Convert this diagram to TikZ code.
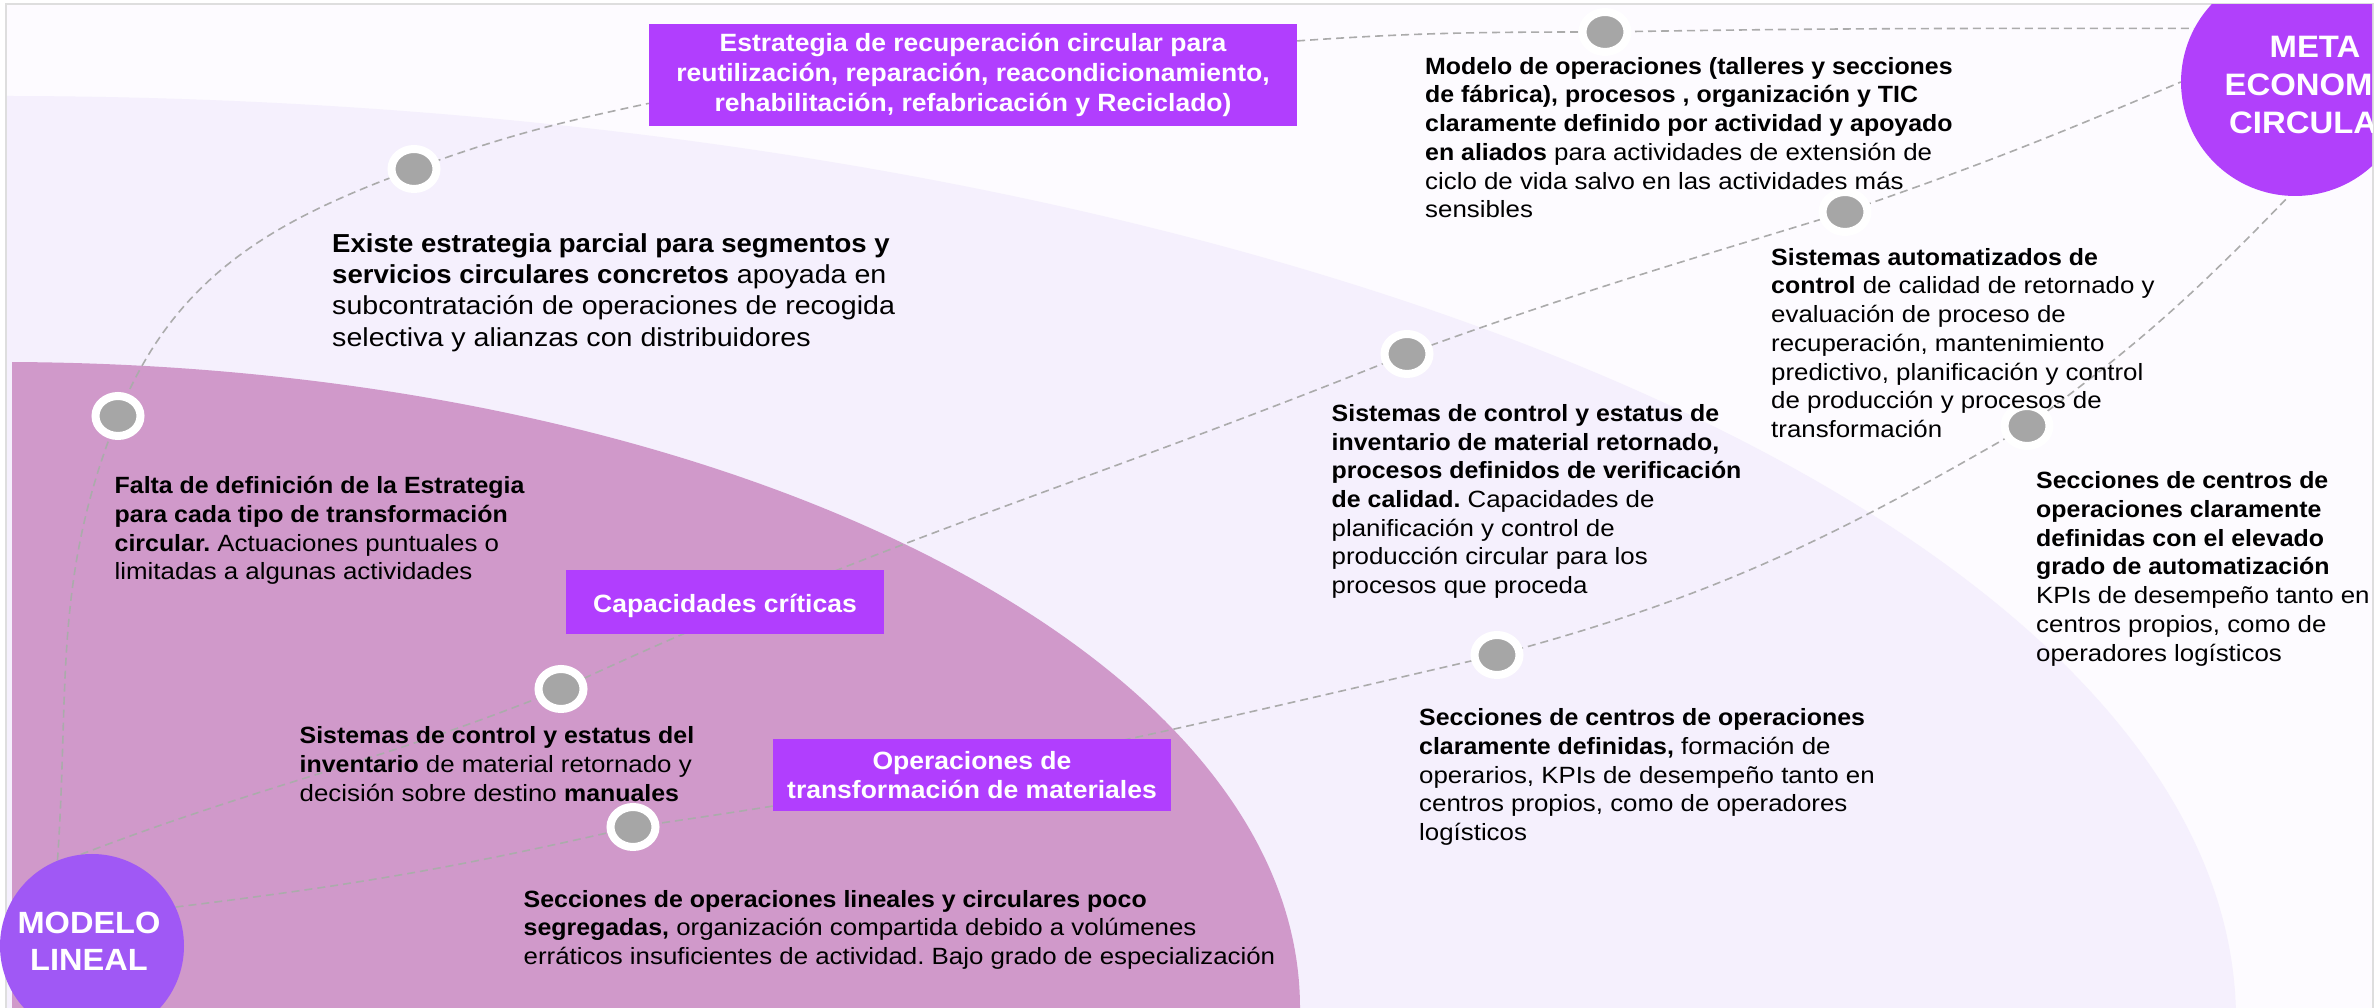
\documentclass[tikz,border=0pt]{standalone}
\usepackage{fontspec}
\setmainfont{Liberation Sans}[FakeStretch=1.10]
\newfontfamily\bdfam{Liberation Sans}[FakeStretch=1.06]
\newcommand\bdx{\bdfam\bfseries}
\frenchspacing
\usetikzlibrary{shapes.geometric}
\definecolor{framebg}{HTML}{FDFBFF}
\definecolor{lav}{HTML}{F5F0FD}
\definecolor{mauve}{HTML}{D099CA}
\definecolor{boxp}{HTML}{B13EFE}
\definecolor{modelc}{HTML}{A058F5}
\definecolor{metac}{HTML}{B140FB}
\definecolor{dotg}{HTML}{A6A6A6}
\definecolor{lineg}{HTML}{ABABAB}
\definecolor{frameg}{HTML}{DEDEDE}
\pgfdeclarelayer{bgl}
\pgfdeclarelayer{lnl}
\pgfsetlayers{bgl,lnl,main}
\tikzset{
 body/.style={anchor=north west, inner sep=0pt, align=left, text=black, font=\frenchspacing\fontsize{23.5}{28.7}\selectfont},
 bodybig/.style={body, font=\frenchspacing\fontsize{26}{31.3}\selectfont},
 dotn/.style={ellipse, fill=dotg, draw=white, line width=8pt, minimum width=45pt, minimum height=40pt, inner sep=0pt},
 pbox/.style={rectangle, fill=boxp, text=white, inner sep=0pt, align=center, font=\bdx\fontsize{25}{29.5}\selectfont},
 conn/.style={draw=lineg, line width=1.6pt, dash pattern=on 8pt off 5pt},
 bigcirc/.style={circle, inner sep=0pt},
 circtxt/.style={text=white, inner sep=0pt, align=center},
}
\newcommand\hs{\rule{0pt}{22pt}}
\newcommand\hb{\rule{0pt}{24.3pt}}
\begin{document}
\begin{tikzpicture}[x=1pt,y=1pt]
\useasboundingbox (0,0) rectangle (2376,1008);
\begin{pgfonlayer}{bgl}
 \fill[white] (0,0) rectangle (2376,1008);
 \begin{scope}
  \clip (7,0) rectangle (2372,1003);
  \fill[framebg] (7,0) rectangle (2372,1003);
  \fill[lav] (0,-12) ellipse [x radius=2236, y radius=924];
 \end{scope}
 \begin{scope}
  \clip (12,0) rectangle (2372,1003);
  \fill[mauve] (0,0) ellipse [x radius=1300, y radius=646];
 \end{scope}
 \draw[frameg, line width=2pt] (6,0) -- (6,1004) -- (2373,1004) -- (2373,0);
\end{pgfonlayer}

% big circles
\begin{scope}
 \clip (7,0) rectangle (2372,1003);
 \node[bigcirc, fill=metac, minimum size=228pt] (meta) at (2295,926) {};
 \node[circtxt, font=\bdx\fontsize{31}{38}\selectfont] (metatxt) at (2315,923) {META\\ECONOMÍA\\CIRCULAR};
\end{scope}
\node[bigcirc, fill=modelc, minimum size=184pt] (modelo) at (92,62) {};
\node[circtxt, font=\bdx\fontsize{30.7}{37}\selectfont] (modelotxt) at (89,66.5) {MODELO\\LINEAL};

% dots
\node[dotn] (d1) at (118,592) {};
\node[dotn] (d2) at (414,839) {};
\node[dotn] (d3) at (1605,976) {};
\node[dotn] (d4) at (561,319) {};
\node[dotn] (d5) at (1407,654) {};
\node[dotn] (d6) at (1845,796) {};
\node[dotn] (d7) at (633,181) {};
\node[dotn] (d8) at (1497,353) {};
\node[dotn] (d9) at (2027,582) {};

% boxes
\node[pbox, font=\bdx\fontsize{25}{30}\selectfont, minimum width=648pt, minimum height=102pt] (b1) at (973,933) {Estrategia de recuperación circular para\\reutilización, reparación, reacondicionamiento,\\rehabilitación, refabricación y Reciclado)};
\node[pbox, minimum width=318pt, minimum height=64pt, text height=22pt, text depth=0pt] (b2) at (725,406) {Capacidades críticas};
\node[pbox, minimum width=398pt, minimum height=72pt] (b3) at (972,233) {Operaciones de\\transformación de materiales};

% texts
\node[body] (t1) at (114.5,536.5) {\hs{\bdx Falta de definición de la Estrategia}\\{\bdx para cada tipo de transformación}\\{\bdx circular.} Actuaciones puntuales o\\limitadas a algunas actividades};
\node[bodybig] (t2) at (332,780.3) {\hb{\bdx Existe estrategia parcial para segmentos y}\\{\bdx servicios circulares concretos} apoyada en\\subcontratación de operaciones de recogida\\selectiva y alianzas con distribuidores};
\node[body] (t3) at (1425,955.9) {\hs{\bdx Modelo de operaciones (talleres y secciones}\\{\bdx de fábrica), procesos , organización y TIC}\\{\bdx claramente definido por actividad y apoyado}\\{\bdx en aliados} para actividades de extensión de\\ciclo de vida salvo en las actividades más\\sensibles};
\node[body] (t4) at (1771,764.9) {\hs{\bdx Sistemas automatizados de}\\{\bdx control} de calidad de retornado y\\evaluación de proceso de\\recuperación, mantenimiento\\predictivo, planificación y control\\de producción y procesos de\\transformación};
\node[body] (t5) at (1331.5,608.8) {\hs{\bdx Sistemas de control y estatus de}\\{\bdx inventario de material retornado,}\\{\bdx procesos definidos de verificación}\\{\bdx de calidad.} Capacidades de\\planificación y control de\\producción circular para los\\procesos que proceda};
\node[body] (t6) at (2036,541.3) {\hs{\bdx Secciones de centros de}\\{\bdx operaciones claramente}\\{\bdx definidas con el elevado}\\{\bdx grado de automatización}\\KPIs de desempeño tanto en\\centros propios, como de\\operadores logísticos};
\node[body] (t7) at (1419,304.4) {\hs{\bdx Secciones de centros de operaciones}\\{\bdx claramente definidas,} formación de\\operarios, KPIs de desempeño tanto en\\centros propios, como de operadores\\logísticos};
\node[body] (t8) at (299.5,286.4) {\hs{\bdx Sistemas de control y estatus del}\\{\bdx inventario} de material retornado y\\decisión sobre destino {\bdx manuales}};
\node[body] (t9) at (523.5,123.1) {\hs{\bdx Secciones de operaciones lineales y circulares poco}\\{\bdx segregadas,} organización compartida debido a volúmenes\\erráticos insuficientes de actividad. Bajo grado de especialización};

% connectors
\begin{pgfonlayer}{lnl}
 \draw[conn] (modelo.112) to[out=86,in=248] (d1.center) to[out=68,in=200] (d2.center) to[out=20,in=192] (b1.185);
 \draw[conn] (b1.6) to[out=4,in=180] (d3.center) to[out=1,in=180] (meta.152);
 \draw[conn] (modelo.97) to[out=21,in=202] (d4.center) to[out=25,in=202] (d5.center) to[out=20,in=197] (d6.center) to[out=19,in=203] (meta.180);
 \draw[conn] (modelo.25) to[out=7,in=193] (d7.center) to[out=8,in=193] (d8.center) to[out=15,in=210] (d9.center) to[out=36,in=226] (meta.267);
\end{pgfonlayer}
\end{tikzpicture}
\end{document}
